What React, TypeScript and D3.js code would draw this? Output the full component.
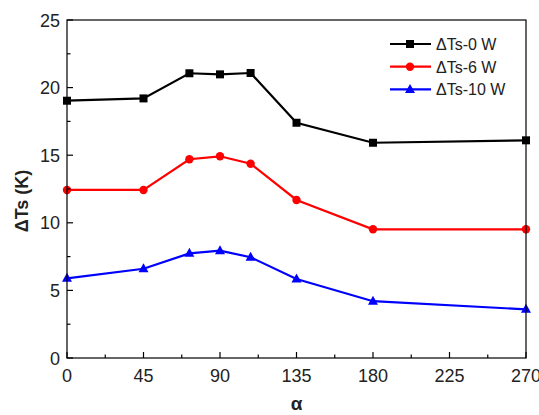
import React from "react";
import * as d3 from "d3";

const angles = [0, 45, 72, 90, 108, 135, 180, 270];
const dts0 = [19.03, 19.2, 21.06, 20.98, 21.08, 17.4, 15.92, 16.1];
const dts6 = [12.43, 12.43, 14.7, 14.92, 14.37, 11.69, 9.52, 9.52];
const dts10 = [5.89, 6.6, 7.74, 7.94, 7.45, 5.84, 4.2, 3.6];
const xTicks = [0, 45, 90, 135, 180, 225, 270];
const yTicks = [0, 5, 10, 15, 20, 25];
const seriesNames = ["ΔTs-0 W", "ΔTs-6 W", "ΔTs-10 W"];
const seriesColors = ["#000000", "#ff0000", "#0000ff"];
const seriesShapes = ["square", "circle", "triangle"];

const W = 539, H = 415;
const m = { left: 67, right: 13, top: 20, bottom: 57 };

function Marker({ shape, x, y, color }: { shape: string; x: number; y: number; color: string }) {
  if (shape === "square") return <rect x={x - 4} y={y - 4} width={8} height={8} fill={color} />;
  if (shape === "circle") return <circle cx={x} cy={y} r={4.2} fill={color} />;
  return <path d={`M${x},${y - 5.5} L${x + 5},${y + 3.5} L${x - 5},${y + 3.5} Z`} fill={color} />;
}

export default function App() {
  const x = d3.scaleLinear().domain([0, 270]).range([m.left, W - m.right]);
  const y = d3.scaleLinear().domain([0, 25]).range([H - m.bottom, m.top]);
  const data = [dts0, dts6, dts10];
  const line = d3.line<number>().x((_, i) => x(angles[i])).y((d) => y(d));
  const xMinor = d3.range(22.5, 270, 45);
  const yMinor = d3.range(2.5, 25, 5);
  const font = "'Liberation Sans', Arial, sans-serif";
  const x0 = x(0), x1 = x(270), y0 = y(0), y1 = y(25);
  return (
    <svg width={W} height={H} style={{ position: "absolute", left: 0, top: 0 }} fontFamily={font}>
      <rect width={W} height={H} fill="#fff" />
      {data.map((s, k) => (
        <g key={k}>
          <path d={line(s) || ""} fill="none" stroke={seriesColors[k]} strokeWidth={2.2} />
          {s.map((v, i) => (
            <Marker key={i} shape={seriesShapes[k]} x={x(angles[i])} y={y(v)} color={seriesColors[k]} />
          ))}
        </g>
      ))}
      <rect x={x0} y={y1} width={x1 - x0} height={y0 - y1} fill="none" stroke="#000" strokeWidth={1.2} />
      {xTicks.map((t) => (
        <g key={t}>
          <line x1={x(t)} x2={x(t)} y1={y0} y2={y0 - 6} stroke="#000" strokeWidth={1.2} />
          <text x={x(t)} y={y0 + 24} textAnchor="middle" fontSize={18} fill="#222">{t}</text>
        </g>
      ))}
      {xMinor.map((t) => (
        <line key={t} x1={x(t)} x2={x(t)} y1={y0} y2={y0 - 3.5} stroke="#000" strokeWidth={1.2} />
      ))}
      {yTicks.map((t) => (
        <g key={t}>
          <line x1={x0} x2={x0 + 6} y1={y(t)} y2={y(t)} stroke="#000" strokeWidth={1.2} />
          <text x={x0 - 7} y={y(t) + 6.5} textAnchor="end" fontSize={18} fill="#222">{t}</text>
        </g>
      ))}
      {yMinor.map((t) => (
        <line key={t} x1={x0} x2={x0 + 3.5} y1={y(t)} y2={y(t)} stroke="#000" strokeWidth={1.2} />
      ))}
      <text transform={`translate(28,${(y0 + y1) / 2 + 12}) rotate(-90)`} textAnchor="middle" fontSize={18} fontWeight="bold" fill="#222">ΔTs (K)</text>
      <text x={(x0 + x1) / 2} y={410} textAnchor="middle" fontSize={19} fontWeight="bold" fill="#222">α</text>
      {seriesNames.map((n, k) => {
        const ly = 44 + k * 22.7;
        return (
          <g key={n}>
            <line x1={390} x2={431} y1={ly} y2={ly} stroke={seriesColors[k]} strokeWidth={2.2} />
            <Marker shape={seriesShapes[k]} x={410} y={ly} color={seriesColors[k]} />
            <text x={436} y={ly + 6} fontSize={16} fill="#222">{n}</text>
          </g>
        );
      })}
    </svg>
  );
}
